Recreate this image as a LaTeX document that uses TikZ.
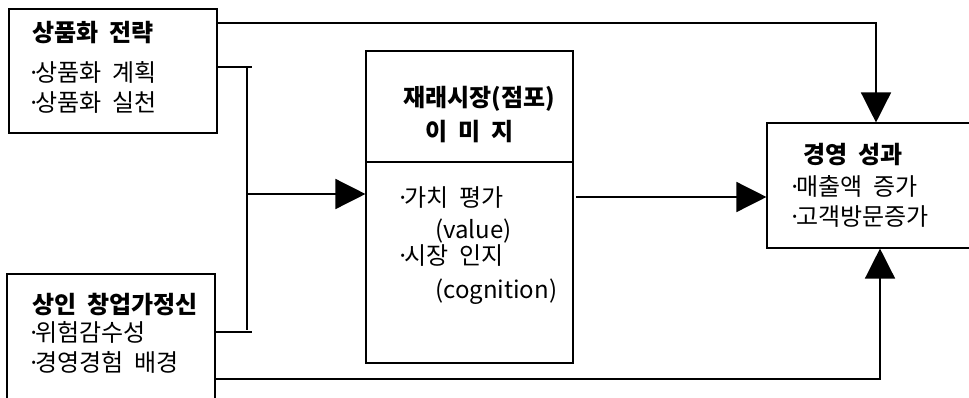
\documentclass[tikz,border=0pt]{standalone}
\usepackage{fontspec}
\setmainfont{Noto Sans CJK KR}[WordSpace=2.0]
\usetikzlibrary{arrows.meta}
\newcommand{\bdot}{·\kern-0.22em}
\begin{document}
\begin{tikzpicture}[x=1pt,y=-1pt,
  box/.style={draw,line width=1.1pt,inner sep=0pt,rectangle},
  conn/.style={line width=1.4pt},
  arr/.style={line width=1.4pt,-{Triangle[length=30pt,width=30pt]}},
  txt/.style={anchor=base west,inner sep=0pt,font=\fontsize{24}{28}\selectfont},
  btxt/.style={txt,font=\fontsize{24}{28}\selectfont\bfseries}]
\useasboundingbox (0,0) rectangle (969,397);
% boxes
\node[box,minimum width=208pt,minimum height=124pt] (box1) at (113,71) {};
\node[box,minimum width=208pt,minimum height=128pt] (box2) at (111,338) {};
\node[box,minimum width=207pt,minimum height=312pt] (box3) at (469.5,207) {};
\node[box,minimum width=205pt,minimum height=125pt] (box4) at (869.5,185.5) {};
\coordinate (dl) at (box3.west |- 0,162);
\coordinate (dr) at (box3.east |- 0,162);
\draw[line width=1.1pt] (dl) -- (dr);
% texts
\node[btxt] (t1a) at (32,41) {상품화 전략};
\node[txt] (t1b) at (27,81) {\bdot 상품화 계획};
\node[txt] (t1c) at (27,111) {\bdot 상품화 실천};
\node[btxt] (t2a) at (32,313) {상인 창업가정신};
\node[txt] (t2b) at (27,341) {\bdot 위험감수성};
\node[txt] (t2c) at (27,371) {\bdot 경영경험 배경};
\node[btxt] (t3a) at (403,106) {재래시장(점포)};
\node[btxt] (t3b) at (425,140) {이 미 지};
\node[txt] (t3c) at (396,206) {\bdot 가치 평가};
\node[txt] (t3d) at (435,238) {(value)};
\node[txt] (t3e) at (396,264) {\bdot 시장 인지};
\node[txt] (t3f) at (435,298) {(cognition)};
\node[btxt] (t4a) at (803,163) {경영 성과};
\node[txt] (t4b) at (788,195) {\bdot 매출액 증가};
\node[txt] (t4c) at (788,225) {\bdot 고객방문증가};
% connectors
\coordinate (a1) at (box1.east |- 0,23);
\coordinate (a2) at (876,23);
\draw[arr] (a1) -- (a2) -- (a2 |- box4.north);
\coordinate (b1) at (box2.east |- 0,379);
\coordinate (b2) at (880,379);
\draw[arr] (b1) -- (b2) -- (b2 |- box4.south);
\coordinate (k1) at (box1.east |- 0,67);
\coordinate (k2) at (252,67);
\coordinate (k3) at (box2.east |- 0,332);
\coordinate (k4) at (252,332);
\coordinate (v1) at (247,67);
\coordinate (v2) at (247,330);
\coordinate (m1) at (247,194);
\draw[line width=1.1pt] (k1) -- (k2);
\draw[line width=1.1pt] (k3) -- (k4);
\draw[conn] (v1) -- (v2);
\draw[arr] (m1) -- (box3.west |- m1);
\coordinate (r1) at (576,197);
\draw[arr] (r1) -- (box4.west |- r1);
\end{tikzpicture}
\end{document}
